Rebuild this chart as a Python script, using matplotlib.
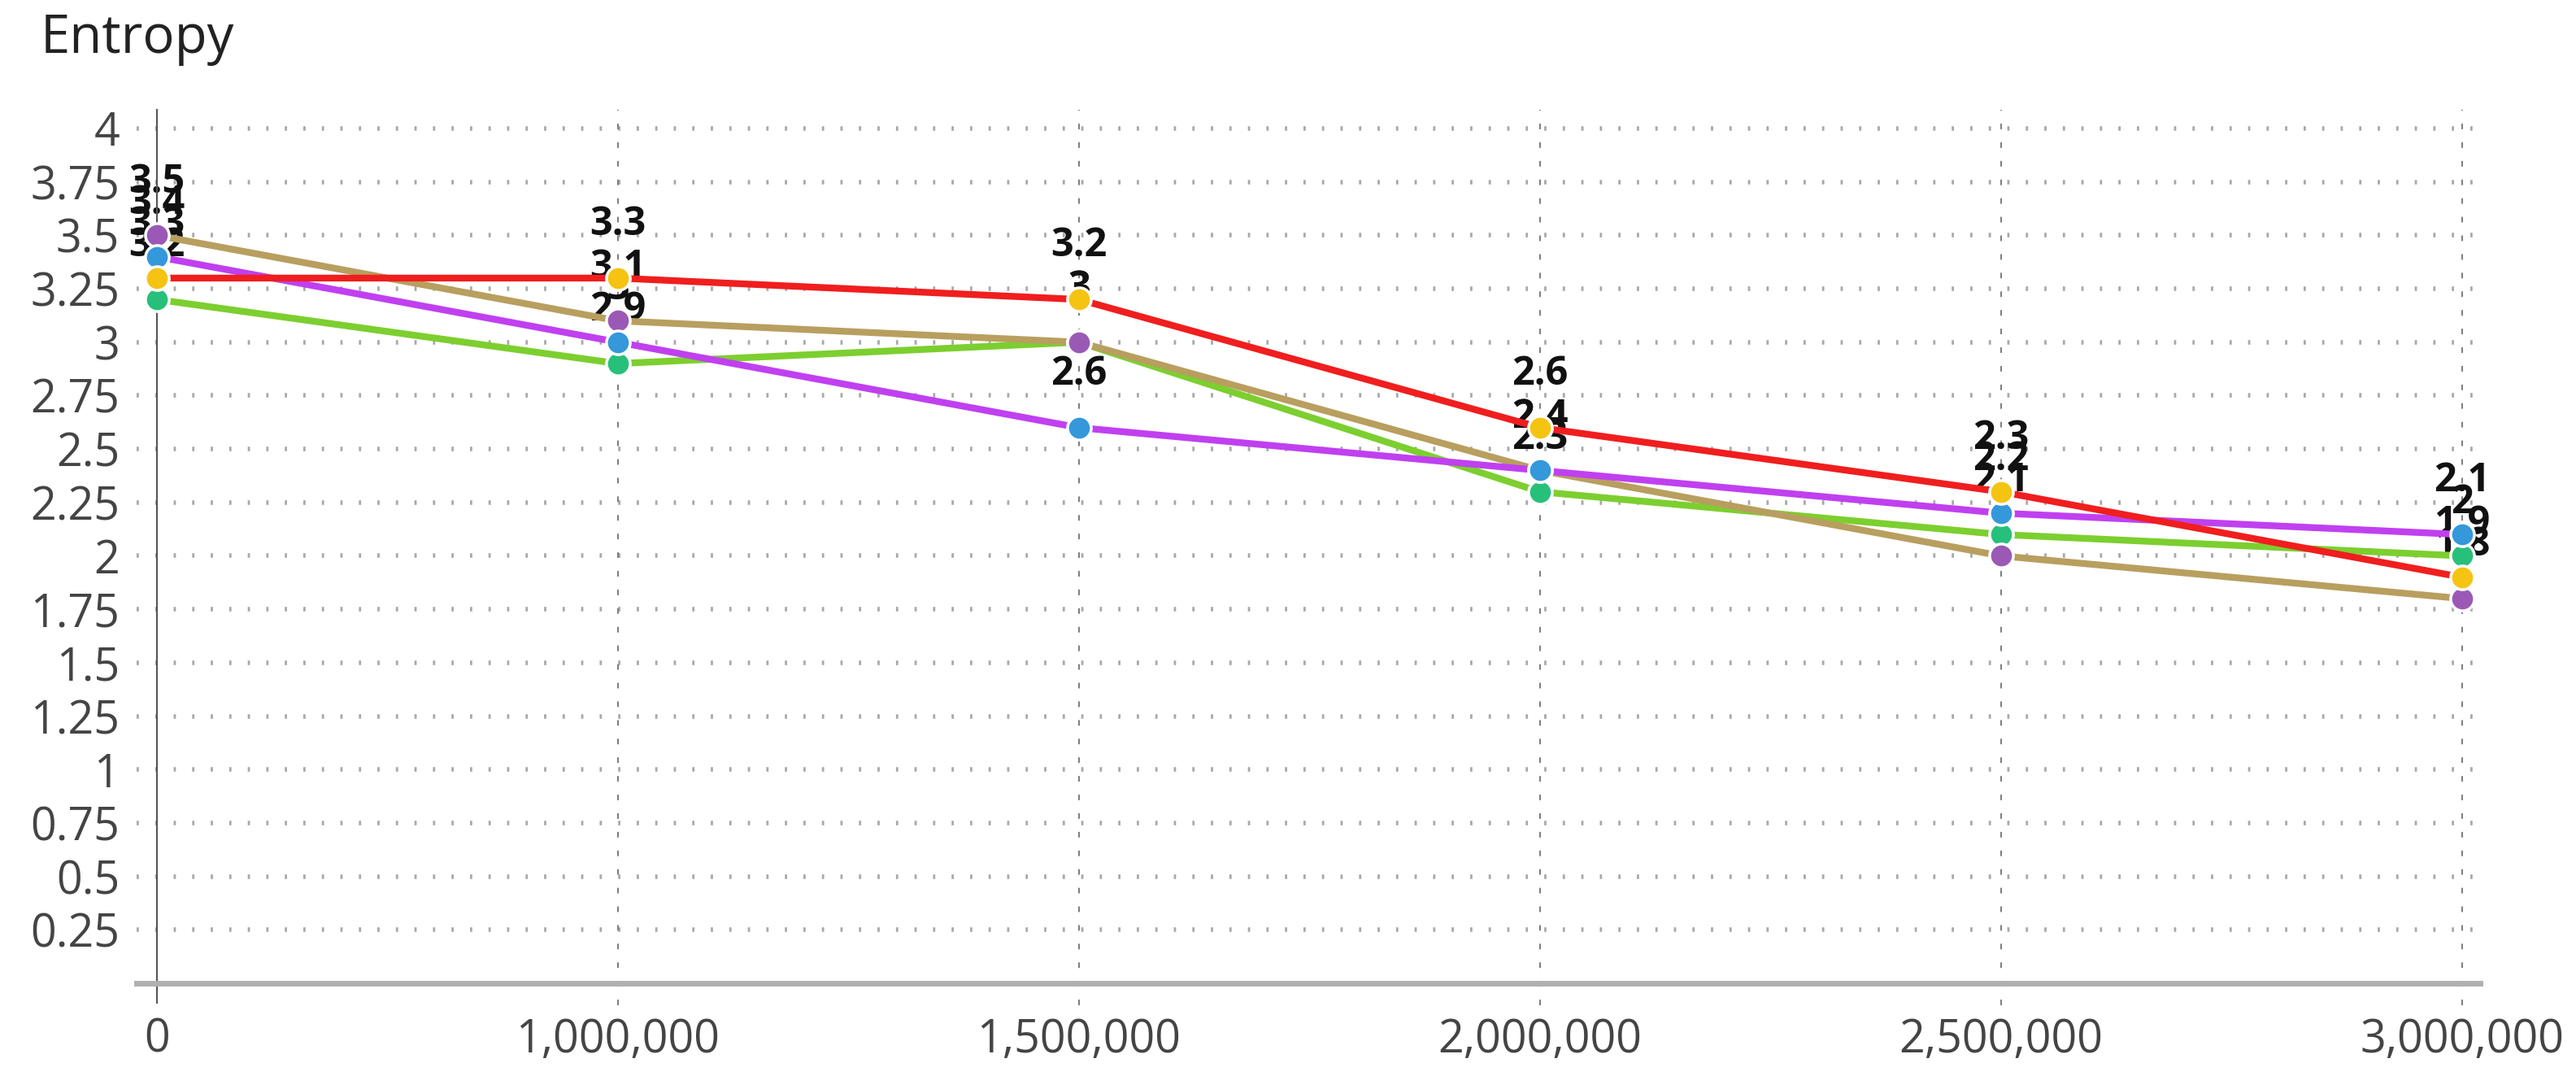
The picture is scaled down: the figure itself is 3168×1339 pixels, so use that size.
import matplotlib
matplotlib.use("Agg")
import matplotlib.pyplot as plt

plt.rcParams['font.family'] = ['Open Sans', 'DejaVu Sans']

# данные
categories = ['0', '1,000,000', '1,500,000', '2,000,000', '2,500,000', '3,000,000']
red_vals = [3.3, 3.3, 3.2, 2.6, 2.3, 1.9]
tan_vals = [3.5, 3.1, 3.0, 2.4, 2.0, 1.8]
magenta_vals = [3.4, 3.0, 2.6, 2.4, 2.2, 2.1]
green_vals = [3.2, 2.9, 3.0, 2.3, 2.1, 2.0]
y_ticks = [0.25, 0.5, 0.75, 1, 1.25, 1.5, 1.75, 2, 2.25, 2.5, 2.75, 3, 3.25, 3.5, 3.75, 4]

# (значения, цвет линии, цвет маркера) - порядок отрисовки
series = [
    (green_vals, '#7ccf2f', '#27c07a'),
    (tan_vals, '#b89f5f', '#9b59b6'),
    (magenta_vals, '#c040f0', '#3498db'),
    (red_vals, '#f01e1e', '#f5c311'),
]

fig = plt.figure(figsize=(31.68, 13.39), dpi=100)
ax = fig.add_axes([168 / 3168, 1 - 1209 / 1339, 2882 / 3168, 1074 / 1339])

x = list(range(len(categories)))

for vals, lc, mc in series:
    ax.plot(x, vals, color=lc, lw=6, zorder=3, solid_capstyle='round')
for vals, lc, mc in series:
    ax.plot(x, vals, ls='none', marker='o', ms=21, mfc=mc, mec='white', mew=2.5, zorder=4)
for vals, lc, mc in series:
    for xi, v in zip(x, vals):
        ax.annotate(f'{v:g}', (xi, v), xytext=(0, 47), textcoords='offset points',
                    ha='center', va='center', fontsize=35, fontweight='bold',
                    color='#111111', zorder=2)

ax.set_xlim(-0.044, 5.039)
ax.set_ylim(0, 4.0875)
ax.set_xticks(x)
ax.set_xticklabels(categories)
ax.set_yticks(y_ticks)
ax.set_yticklabels([f'{t:g}' for t in y_ticks])

# сетка
for t in y_ticks:
    ax.axhline(t, color='#a8a8a8', lw=4, ls=(0, (0.5, 3.6)), dash_capstyle='butt', zorder=1)
for xi in x[1:]:
    ax.axvline(xi, ymin=-0.025, ymax=1, color='#808080', lw=1.5, ls=(0, (3.3, 7.7)),
               clip_on=False, zorder=1)
ax.axvline(0, ymin=-0.022, ymax=0, color='#555555', lw=1.5, clip_on=False)

for s in ['top', 'right']:
    ax.spines[s].set_visible(False)
ax.spines['left'].set_position(('data', 0))
ax.spines['left'].set_color('#555555')
ax.spines['left'].set_linewidth(1.5)
ax.spines['bottom'].set_color('#b0b0b0')
ax.spines['bottom'].set_linewidth(5)

ax.tick_params(axis='x', length=0, pad=30, labelsize=40, labelcolor='#444444')
ax.tick_params(axis='y', length=0, pad=33, labelsize=40, labelcolor='#444444')

fig.text(50 / 3168, 1 - 65 / 1339, 'Entropy', fontsize=47, color='#222222', va='baseline')

fig.savefig('out.png', dpi=100)
